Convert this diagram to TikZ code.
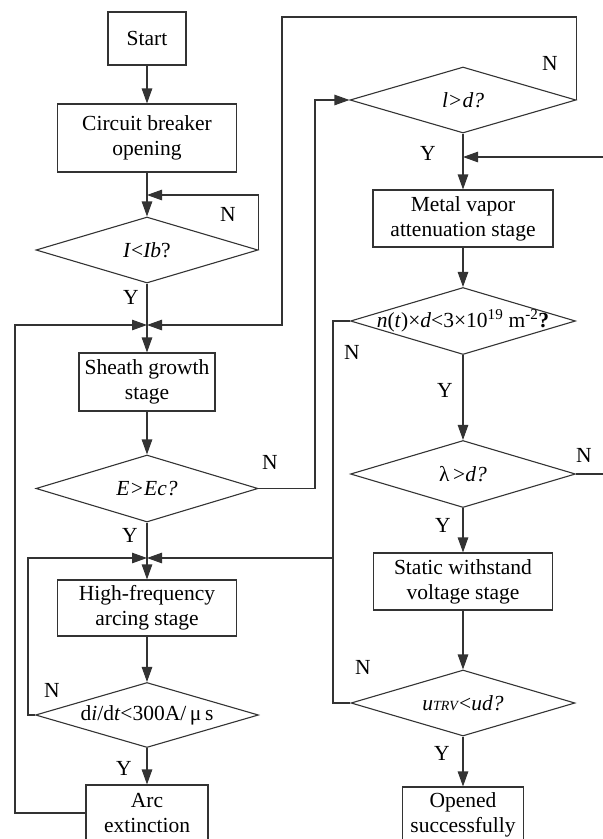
\documentclass[tikz,border=0pt]{standalone}
\usepackage{fontspec}
\setmainfont{Liberation Serif}
\usetikzlibrary{shapes.geometric,arrows.meta}
\begin{document}
\begin{tikzpicture}[x=1pt,y=-1pt,
 every node/.style={font=\fontsize{21.5}{25}\selectfont},
 ln/.style={draw=black!80, line width=1.1pt},
 arr/.style={ln, -{Triangle[length=15pt,width=10.5pt]}},
 box/.style={ln, rectangle, fill=white, align=center, inner sep=0pt},
 dia/.style={ln, diamond, inner sep=0pt, fill=white},
 yn/.style={inner sep=0pt}]
\useasboundingbox (0,0) rectangle (603,839);
\clip (0,0) rectangle (603,839);
% left column
\node[box, minimum width=78pt, minimum height=53pt] (start) at (147,38.5) {Start};
\node[box, minimum width=179pt, minimum height=68pt] (cbo) at (147,138) {Circuit breaker\\opening};
\node[dia, minimum width=222pt, minimum height=66pt, label=center:{\textit{I}<\textit{Ib}?}] (d1) at (147,250) {};
\node[box, minimum width=136pt, minimum height=58pt] (sheath) at (147,382) {Sheath growth\\stage};
\node[dia, minimum width=222pt, minimum height=67pt, label=center:{\textit{E>Ec?}}] (d2) at (147,488.5) {};
\node[box, minimum width=179pt, minimum height=56pt] (hf) at (147,608) {High-frequency\\arcing stage};
\node[dia, minimum width=223pt, minimum height=65pt, label=center:{d\textit{i}/d\textit{t}<300A/\,μ\,s}] (d3) at (147,715) {};
\node[box, minimum width=122pt, minimum height=56pt] (arc) at (147,813) {Arc\\extinction};
% right column
\node[dia, minimum width=226pt, minimum height=66pt, label=center:{\textit{l>d?}}] (d4) at (463,100) {};
\node[box, minimum width=180pt, minimum height=57pt] (metal) at (463,218.5) {Metal vapor\\attenuation stage};
\node[dia, minimum width=225pt, minimum height=67pt, label=center:{\textit{n}(\textit{t})×\textit{d}<3×10\textsuperscript{19} m\textsuperscript{-2}\textbf{?}}] (d5) at (463,321) {};
\node[dia, minimum width=225pt, minimum height=67pt, label=center:{λ\,>\textit{d?}}] (d6) at (463,474) {};
\node[box, minimum width=179pt, minimum height=57pt] (static) at (463,581.5) {Static withstand\\voltage stage};
\node[dia, minimum width=224pt, minimum height=66pt, label=center:{\textit{u}{\fontsize{14}{16}\selectfont\textit{TRV}}<\textit{ud?}}] (d7) at (463,703) {};
\node[box, minimum width=121pt, minimum height=56pt] (opened) at (463,815) {Opened\\successfully};
% helper coordinates
\coordinate (l1) at (147,195);
\coordinate (j1) at (147,325);
\coordinate (j2) at (147,558);
\coordinate (oL) at (15,325);
\coordinate (iL) at (28,558);
\coordinate (m1) at (315,100);
\coordinate (t2) at (282,17);
\coordinate (r1) at (333,558);
\coordinate (e1) at (615,474);
\coordinate (e2) at (615,157);
\coordinate (k1) at (463,157);
% main flow
\draw[arr] (start) -- (cbo);
\draw[arr] (cbo) -- (d1);
\draw[arr] (d1) -- (sheath);
\draw[arr] (sheath) -- (d2);
\draw[arr] (d2) -- (hf);
\draw[arr] (hf) -- (d3);
\draw[arr] (d3) -- (arc);
\draw[arr] (d4) -- (metal);
\draw[arr] (metal) -- (d5);
\draw[arr] (d5) -- (d6);
\draw[arr] (d6) -- (static);
\draw[arr] (static) -- (d7);
\draw[arr] (d7) -- (opened);
% loops
\draw[arr] (d1.east) |- (l1);
\draw[arr] (arc.west) -| (oL) -- (j1);
\draw[arr] (d3.west) -| (iL) -- (j2);
\draw[arr] (d2.east) -| (m1) -- (d4.west);
\draw[arr] (d4.east) |- (t2) |- (j1);
\draw[arr] (d5.west) -| (r1) -- (j2);
\draw[ln] (d7.west) -| (r1);
\draw[ln] (d6.east) -- (e1);
\draw[arr] (e2) -- (k1);
% labels
\node[yn] (n1) at (228,214) {N};
\node[yn] (y1) at (131,297) {Y};
\node[yn] (n2) at (270,462) {N};
\node[yn] (y2) at (130,535) {Y};
\node[yn] (n3) at (52,690) {N};
\node[yn] (y3) at (124,768) {Y};
\node[yn] (n4) at (550,63) {N};
\node[yn] (y4) at (428,153) {Y};
\node[yn] (n5) at (352,352) {N};
\node[yn] (y5) at (445,390) {Y};
\node[yn] (n6) at (584,455) {N};
\node[yn] (y6) at (443,525) {Y};
\node[yn] (n7) at (363,667) {N};
\node[yn] (y7) at (442,753) {Y};
\end{tikzpicture}
\end{document}
